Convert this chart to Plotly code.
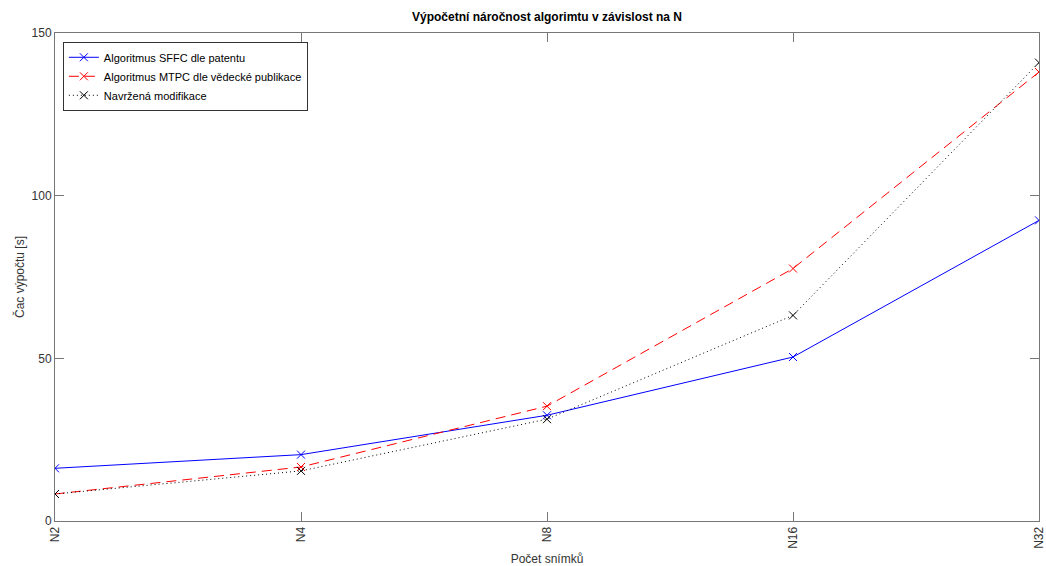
import plotly.graph_objects as go

categories = ["N2", "N4", "N8", "N16", "N32"]
sffc = [16.2, 20.4, 32.5, 50.4, 92.4]
mtpc = [8.3, 16.6, 35.3, 77.6, 138.0]
modif = [8.3, 15.4, 31.3, 63.2, 140.9]

names = ["Algoritmus SFFC dle patentu",
         "Algoritmus MTPC dle vědecké publikace",
         "Navržená modifikace"]

fig = go.Figure()
fig.add_trace(go.Scatter(x=categories, y=sffc, name=names[0], mode="lines+markers",
                         line=dict(color="#0000ff", width=1),
                         marker=dict(symbol="x-thin-open", size=8, line=dict(color="#0000ff", width=1))))
fig.add_trace(go.Scatter(x=categories, y=mtpc, name=names[1], mode="lines+markers",
                         line=dict(color="#ff0000", width=1, dash="10px,6px"),
                         marker=dict(symbol="x-thin-open", size=8, line=dict(color="#ff0000", width=1))))
fig.add_trace(go.Scatter(x=categories, y=modif, name=names[2], mode="lines+markers",
                         line=dict(color="#000000", width=1, dash="1px,3px"),
                         marker=dict(symbol="x-thin-open", size=8, line=dict(color="#000000", width=1))))

font = "Liberation Sans, Arial, sans-serif"
axis_common = dict(showline=True, linecolor="#777", linewidth=1, mirror="ticks",
                   ticks="inside", ticklen=9, tickcolor="#777", showgrid=False,
                   zeroline=False, automargin=False,
                   tickfont=dict(family=font, size=12, color="#333"))

fig.update_layout(
    width=1046, height=566,
    margin=dict(l=55, r=7, t=33, b=45, autoexpand=False),
    paper_bgcolor="white", plot_bgcolor="white",
    title=dict(text="<b>Výpočetní náročnost algorimtu v závislost na N</b>",
               x=(55 + 1039) / 2 / 1046, xanchor="center", y=1 - 17 / 566, yanchor="middle",
               font=dict(family=font, size=12, color="#000")),
    xaxis=dict(**axis_common, type="category", range=[0, 4], tickangle=-90,
               title=dict(text="Počet snímků", standoff=8,
                          font=dict(family=font, size=12, color="#333"))),
    yaxis=dict(**axis_common, range=[0, 150], tickvals=[0, 50, 100, 150]),
    legend=dict(x=0.008, y=0.982, xanchor="left", yanchor="top",
                bgcolor="white", bordercolor="#333", borderwidth=1,
                font=dict(family=font, size=11, color="#000"),
                itemwidth=30, tracegroupgap=0),
    showlegend=True,
)
fig.add_annotation(text="Čac výpočtu [s]", xref="paper", yref="paper",
                   x=(19 - 55) / 984, y=0.5, xanchor="center", yanchor="middle",
                   textangle=-90, showarrow=False,
                   font=dict(family=font, size=12, color="#333"))

fig.write_html("out.html")
